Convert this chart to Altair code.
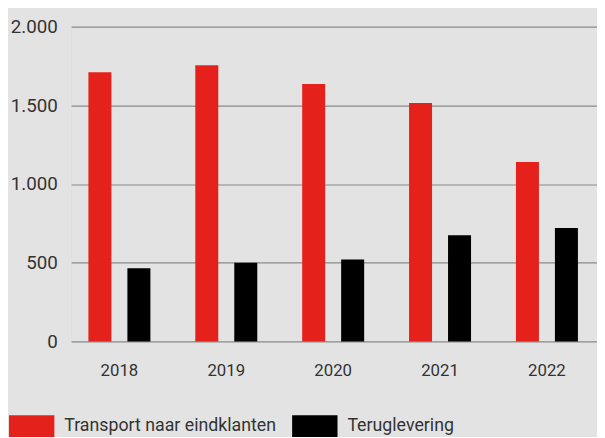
import altair as alt
import pandas as pd

years = ["2018", "2019", "2020", "2021", "2022"]
transport = [1710, 1755, 1635, 1515, 1140]
teruglevering = [465, 500, 520, 675, 720]
series = ["Transport naar eindklanten", "Teruglevering"]
colors = ["#e4221b", "#000000"]

rows = []
for i, y in enumerate(years):
    rows.append({"jaar": y, "serie": series[0], "waarde": transport[i]})
    rows.append({"jaar": y, "serie": series[1], "waarde": teruglevering[i]})
df = pd.DataFrame(rows)

FONT = "Roboto"

chart = alt.Chart(df).mark_bar().encode(
    x=alt.X("jaar:N", title=None, sort=years,
            scale=alt.Scale(paddingInner=0.42, paddingOuter=0.17, align=0.475),
            axis=alt.Axis(labelAngle=0, domain=False, ticks=False, labelPadding=22,
                          labelFontSize=17, labelColor="#333333", labelFont=FONT, grid=False)),
    xOffset=alt.XOffset("serie:N", sort=series,
                        scale=alt.Scale(paddingInner=0.41, paddingOuter=0)),
    y=alt.Y("waarde:Q", title=None,
            scale=alt.Scale(domain=[0, 2000], nice=False),
            axis=alt.Axis(values=[0, 500, 1000, 1500, 2000], format=",.0f",
                          domain=False, ticks=False, labelPadding=14,
                          labelFontSize=19, labelColor="#333333", labelFont=FONT,
                          gridColor="#8a8a8a", gridWidth=1.2, gridOpacity=1)),
    color=alt.Color("serie:N", sort=series,
                    scale=alt.Scale(domain=series, range=colors),
                    legend=alt.Legend(title=None, orient="none", direction="horizontal",
                                      legendX=-63, legendY=382,
                                      symbolType="M-1,-0.5H1V0.5H-1Z", symbolSize=2116,
                                      symbolStrokeWidth=0, symbolOpacity=1,
                                      labelFontSize=18, labelFont=FONT, labelColor="#333333",
                                      labelLimit=400,
                                      labelOffset=10, columnPadding=16)),
).properties(
    width=533, height=319,
    background="#e3e3e3",
    padding={"left": 64, "top": 16, "right": 0, "bottom": 94},
    autosize=alt.AutoSizeParams(type="none"),
).configure_view(stroke=None).configure(
    locale={"number": {"decimal": ",", "thousands": ".", "grouping": [3], "currency": ["€", ""]}}
)

chart.save("out.html", embed_options={"renderer": "svg", "actions": False})
